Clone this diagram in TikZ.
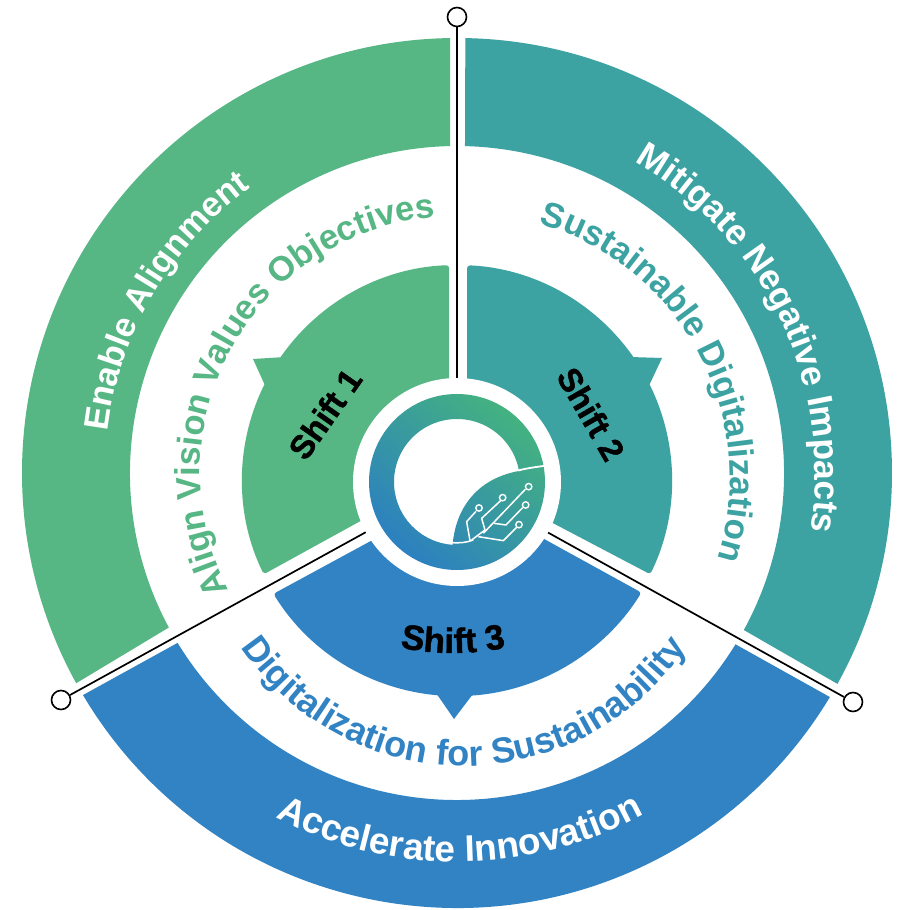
\documentclass[tikz,border=0pt]{standalone}
\usepackage{fontspec}
\setmainfont{Liberation Sans}
\newfontfamily\shf[FakeBold=1.2]{Liberation Sans Bold}
\usetikzlibrary{decorations.text}
\definecolor{gr}{RGB}{86,182,132}
\definecolor{te}{RGB}{60,163,162}
\definecolor{bl}{RGB}{50,131,195}
\definecolor{ringg}{RGB}{68,178,128}
\definecolor{ringb}{RGB}{44,128,192}
\newcommand\szfont[1]{\fontsize{#1}{#1}\selectfont\bfseries}
\newcommand\shfont{\fontsize{33}{33}\selectfont\shf}
\newcommand\shfontb{\fontsize{35}{35}\selectfont\shf}
% outer ring sector: colour, outer start, outer end, inner start, inner end
\newcommand\ringsect[5]{\fill[#1] ([shift={(C)}]#2:435) arc[start angle=#2,end angle=#3,radius=435pt]
  -- ([shift={(C)}]#4:327) arc[start angle=#4,end angle=#5,radius=327pt] -- cycle;}
% text on circle: centre coordinate, radius, centre angle, half span (signed), format, text
\newcommand\arctext[6]{\path[decorate,decoration={text along path,text align=center,text={|#5|#6}}]
  ([shift={(#1)}]{#3-#4}:#2) arc[start angle={#3-#4},end angle={#3+#4},radius=#2pt];}
\tikzset{
  tipnode/.style={circle,draw=black,fill=white,line width=1.6pt,minimum size=19pt,inner sep=0pt},
  hubnode/.style={circle,fill=white,minimum size=208pt,inner sep=0pt},
  spoke/.style={draw=black,line width=1.7pt},
  wedge/.style={rounded corners=3pt},
  shiftlabel/.style={font=\shfont,text=black,inner sep=0pt},
  wire/.style={draw=white,line width=1.5pt,line join=round},
  pad/.style={draw=white,line width=1.4pt,fill=none}
}
\begin{document}
\begin{tikzpicture}[x=1pt,y=1pt]
\useasboundingbox (0,0) rectangle (904,910);
\fill[white] (0,0) rectangle (904,910);
\coordinate (C) at (457,437);
\coordinate (W) at (457,430);
\coordinate (CS) at (465,432);
\coordinate (CD) at (464,412);
\coordinate (CT) at (453,517);
% outer ring
\ringsect{gr}{90.9}{208.9}{208.2}{91.2}
\ringsect{te}{88.9}{-29}{-28.7}{88.6}
\ringsect{bl}{210.7}{329}{328.4}{211.3}
% inner wedges
\fill[gr,wedge] ([shift={(W)}]92.1:215) arc[start angle=92.1,end angle=206,radius=215pt] -- (366,392) -- (449,430) -- cycle;
\fill[te,wedge] ([shift={(W)}]87.3:215) arc[start angle=87.3,end angle=-26,radius=215pt] -- (547,390) -- (467,430) -- cycle;
\fill[bl,wedge] ([shift={(W)}]211.8:216) arc[start angle=211.8,end angle=328.6,radius=216pt] -- (535,376) -- (457,428) -- (380,374) -- cycle;
\fill[gr] (253,551) -- (285,553) -- (268,518) -- cycle;
\fill[te] (662,552) -- (630,553) -- (646,518) -- cycle;
\fill[bl] (454,191) -- (434,220) -- (476,220) -- cycle;
% hub and spokes
\node[tipnode] (t1) at (457,893) {};
\node[tipnode] (t2) at (61,210) {};
\node[tipnode] (t3) at (853,208) {};
\node[hubnode] (hub) at (457,428) {};
\draw[spoke] (hub) -- (t1);
\draw[spoke] (hub) -- (t2);
\draw[spoke] (hub) -- (t3);
% ring with leaf
\coordinate (H) at (457,428);
\shade[even odd rule,bottom color=ringb,top color=ringg,shading angle=-40]
  (H) circle[radius=88pt]
  ([shift={(H)}]10:63) arc[start angle=10,end angle=266,radius=63pt]
  .. controls (456,405) and (480,432) .. (519,439) -- cycle;
\draw[white,line width=1.8pt] (518,439.5) .. controls (528,442) and (536,443) .. (547,444.5);
\begin{scope}[shift={(340,540)},x=0.3333pt,y=-0.3333pt]
\draw[wire] (335,518) .. controls (355,520) and (380,518) .. (400,510) (390,512) -- (380,455) -- (408,424);
\draw[wire] (395,510) -- (435,480) -- (425,445) -- (482,392);
\draw[wire] (415,500) -- (490,512) -- (530,472);
\draw[wire] (430,490) -- (556,358);
\draw[wire] (462,460) -- (498,465) -- (548,413);
\draw[pad] (417,414) circle[radius=3.2pt];
\draw[pad] (488,383) circle[radius=3.2pt];
\draw[pad] (537,464) circle[radius=3.2pt];
\draw[pad] (566,350) circle[radius=3.2pt];
\draw[pad] (557,405) circle[radius=3.2pt];
\end{scope}
% ring texts
\arctext{C}{352}{149.5}{-60}{\szfont{34.5}\color{white}}{Enable Alignment}
\arctext{C}{358}{25.5}{-60}{\szfont{35.5}\color{white}}{Mitigate Negative Impacts}
\arctext{C}{389}{270.5}{55}{\szfont{37}\color{white}}{Accelerate Innovation}
\arctext{C}{257}{151}{-75}{\szfont{34.5}\color{gr}}{Align Vision Values Objectives}
\arctext{CS}{265}{28}{-75}{\szfont{35}\color{te}}{Sustainable Digitalization}
\arctext{CD}{268}{270}{75}{\szfont{36}\color{bl}}{Digitalization for Sustainability}
% shift labels
\node[shiftlabel,rotate=55] (s1) at (325,496) {Shift 1};
\node[shiftlabel,rotate=-60] (s2) at (591,496) {Shift 2};
\arctext{CT}{260}{270}{25}{\shfontb\color{black}}{Shift 3}
\end{tikzpicture}
\end{document}
